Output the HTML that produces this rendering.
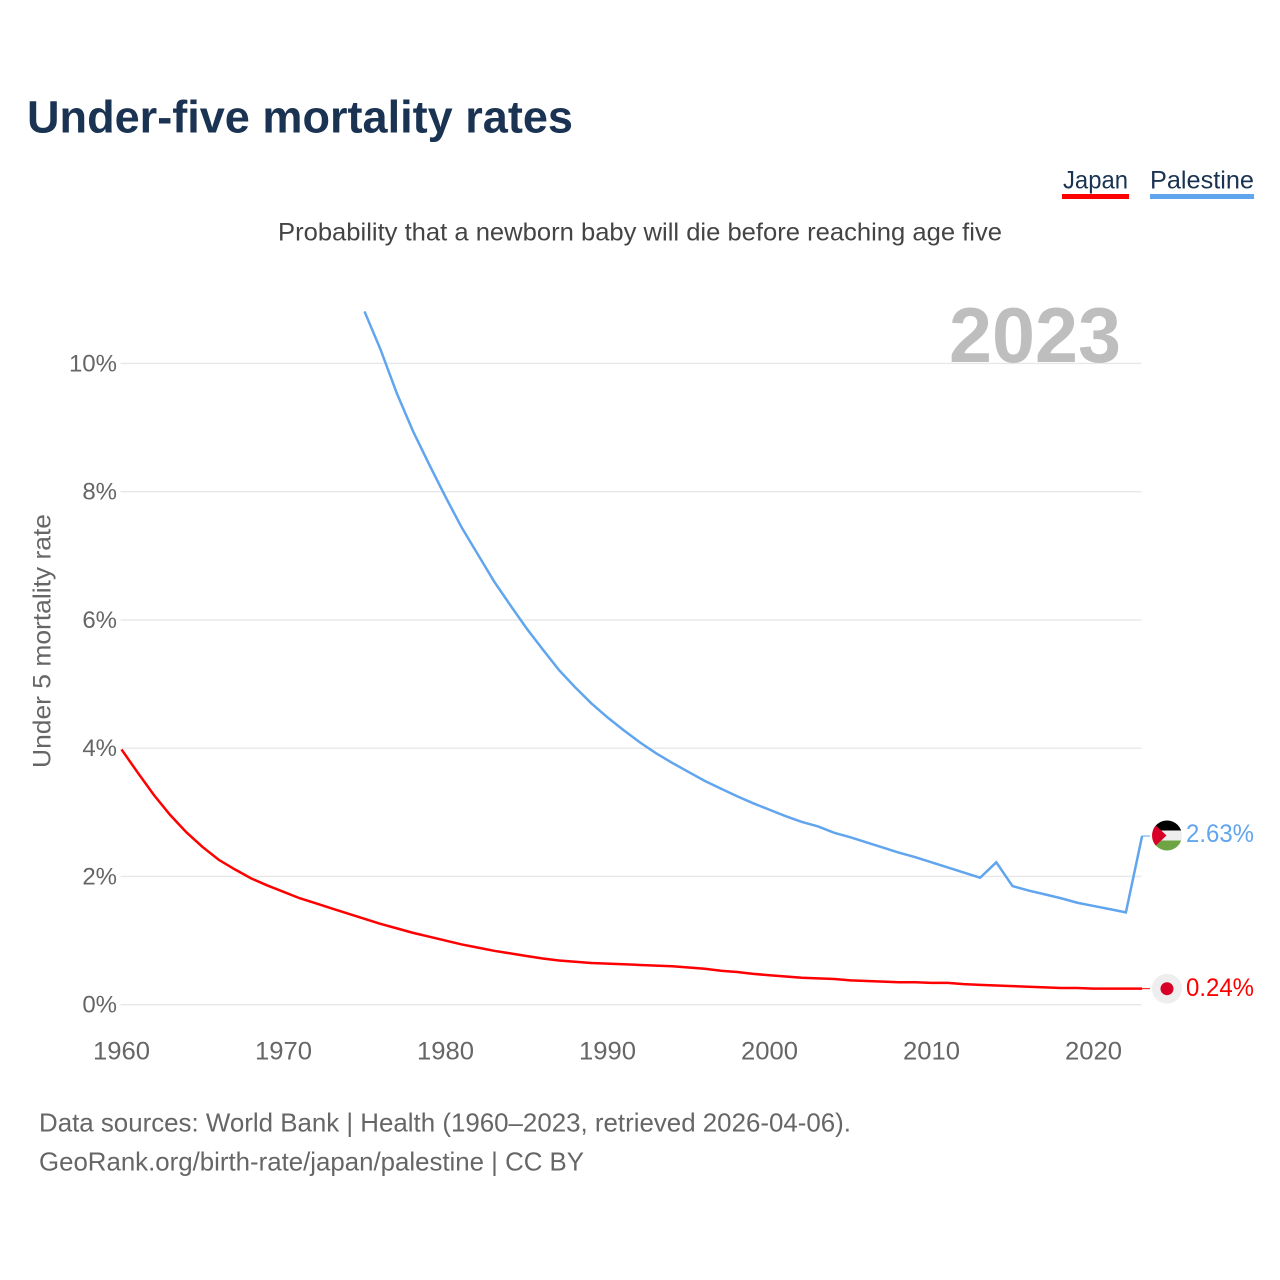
<!DOCTYPE html>
<html lang="en">
<head>
<meta charset="utf-8">
<title>Under-five mortality rates</title>
<style>
html,body{margin:0;padding:0;background:#fff;width:1280px;height:1280px;overflow:hidden}
svg{display:block;font-family:"Liberation Sans",sans-serif}
</style>
</head>
<body>
<svg id="chart" xmlns="http://www.w3.org/2000/svg" width="1280" height="1280" viewBox="0 0 1280 1280">
  <defs>
    <clipPath id="flag-clip"><circle cx="1167" cy="835.5" r="15"/></clipPath>
  </defs>
  <text x="27" y="132.5" font-size="45" font-weight="700" fill="#1a3352" textLength="546" lengthAdjust="spacingAndGlyphs">Under-five mortality rates</text>

  <g>
    <text x="1063" y="188.5" font-size="25" fill="#1a3352" textLength="65" lengthAdjust="spacingAndGlyphs">Japan</text>
    <rect x="1062" y="194" width="67" height="5" fill="#ff0000"/>
  </g>
  <g>
    <text x="1150" y="188.5" font-size="25" fill="#1a3352" textLength="104" lengthAdjust="spacingAndGlyphs">Palestine</text>
    <rect x="1150" y="194" width="104" height="5" fill="#60a5ee"/>
  </g>

  <text x="278" y="240.5" font-size="25" fill="#444444" textLength="724" lengthAdjust="spacingAndGlyphs">Probability that a newborn baby will die before reaching age five</text>

  <g id="grid"></g>
  <g id="y-ticks"></g>
  <g id="x-ticks"></g>

  <text x="949" y="362" font-size="78" font-weight="700" fill="#bebebe" textLength="172" lengthAdjust="spacingAndGlyphs">2023</text>

  <text transform="translate(50.5 768) rotate(-90)" font-size="25" fill="#666666" textLength="254" lengthAdjust="spacingAndGlyphs">Under 5 mortality rate</text>

  <g id="series"></g>

  <g clip-path="url(#flag-clip)">
    <rect x="1152" y="820" width="30" height="10.5" fill="#000000"/>
    <rect x="1152" y="830.5" width="30" height="10" fill="#eeeeee"/>
    <rect x="1152" y="840.5" width="30" height="11" fill="#6da544"/>
    <polygon points="1150,820 1166.5,835.5 1150,851" fill="#d80027"/>
  </g>
  <g>
    <circle cx="1167" cy="988.7" r="15" fill="#eeeeee"/>
    <circle cx="1167" cy="988.7" r="6.5" fill="#d80027"/>
  </g>

  <text x="1186" y="842" font-size="25" fill="#60a5ee" textLength="68" lengthAdjust="spacingAndGlyphs">2.63%</text>
  <text x="1186" y="996" font-size="25" fill="#ff0000" textLength="68" lengthAdjust="spacingAndGlyphs">0.24%</text>

  <text x="39" y="1131.5" font-size="26" fill="#666666" textLength="812" lengthAdjust="spacingAndGlyphs">Data sources: World Bank | Health (1960–2023, retrieved 2026-04-06).</text>
  <text x="39" y="1170.5" font-size="26" fill="#666666" textLength="545" lengthAdjust="spacingAndGlyphs">GeoRank.org/birth-rate/japan/palestine | CC BY</text>
</svg>
<script>
const yTickValues = [0, 2, 4, 6, 8, 10];
const yTickLabels = ["0%", "2%", "4%", "6%", "8%", "10%"];
const xTickValues = [1960, 1970, 1980, 1990, 2000, 2010, 2020];
const xTickLabels = ["1960", "1970", "1980", "1990", "2000", "2010", "2020"];

const japanStartYear = 1960;
const japanValues = [
  3.98, 3.62, 3.27, 2.96, 2.69, 2.46, 2.26, 2.11, 1.97, 1.86,
  1.76, 1.66, 1.58, 1.50, 1.42, 1.34, 1.26, 1.19, 1.12, 1.06,
  1.00, 0.94, 0.89, 0.84, 0.80, 0.76, 0.72, 0.69, 0.67, 0.65,
  0.64, 0.63, 0.62, 0.61, 0.60, 0.58, 0.56, 0.53, 0.51, 0.48,
  0.46, 0.44, 0.42, 0.41, 0.40, 0.38, 0.37, 0.36, 0.35, 0.35,
  0.34, 0.34, 0.32, 0.31, 0.30, 0.29, 0.28, 0.27, 0.26, 0.26,
  0.25, 0.25, 0.25, 0.25
];

const palestineStartYear = 1975;
const palestineValues = [
  10.81, 10.21, 9.53, 8.94, 8.42,
  7.92, 7.44, 7.02, 6.60, 6.23, 5.87, 5.54, 5.22, 4.95, 4.70,
  4.48, 4.28, 4.09, 3.92, 3.77, 3.63, 3.49, 3.37, 3.25, 3.14,
  3.04, 2.94, 2.85, 2.78, 2.68, 2.61, 2.53, 2.45, 2.37, 2.30,
  2.22, 2.14, 2.06, 1.98, 2.22, 1.85, 1.78, 1.72, 1.66, 1.59,
  1.54, 1.49, 1.44, 2.63
];

const svgNS = "http://www.w3.org/2000/svg";
function xScale(year) { return 121.5 + (year - 1960) * 16.2; }
function yScale(value) { return 1004.7 - value * 64.13; }
const plotLeft = xScale(1960) - 1;
const plotRight = xScale(2023) - 0.5;

const grid = document.getElementById("grid");
const yTicks = document.getElementById("y-ticks");
const xTicks = document.getElementById("x-ticks");
const series = document.getElementById("series");

yTickValues.forEach(function (v, i) {
  const line = document.createElementNS(svgNS, "line");
  
  
  line.setAttribute("x1", plotLeft);
  line.setAttribute("x2", plotRight);
  line.setAttribute("y1", yScale(v));
  line.setAttribute("y2", yScale(v));
  line.setAttribute("stroke", "#e8e8e8");
  line.setAttribute("stroke-width", "1.4");
  grid.appendChild(line);

  const label = document.createElementNS(svgNS, "text");
  
  
  label.setAttribute("x", 117);
  label.setAttribute("y", yScale(v) + 8);
  label.setAttribute("text-anchor", "end");
  label.setAttribute("font-size", "24");
  label.setAttribute("fill", "#666666");
  label.textContent = yTickLabels[i];
  yTicks.appendChild(label);
});

xTickValues.forEach(function (v, i) {
  const label = document.createElementNS(svgNS, "text");
  
  
  label.setAttribute("x", xScale(v));
  label.setAttribute("y", 1059.5);
  label.setAttribute("text-anchor", "middle");
  label.setAttribute("font-size", "25");
  label.setAttribute("textLength", "57");
  label.setAttribute("lengthAdjust", "spacingAndGlyphs");
  label.setAttribute("fill", "#666666");
  label.textContent = xTickLabels[i];
  xTicks.appendChild(label);
});

function pointsFor(startYear, values) {
  return values.map(function (v, i) {
    return xScale(startYear + i).toFixed(2) + "," + yScale(v).toFixed(2);
  });
}

const japanPoints = pointsFor(japanStartYear, japanValues);
const palestinePoints = pointsFor(palestineStartYear, palestineValues);

const japanLine = document.createElementNS(svgNS, "polyline");


japanLine.setAttribute("points", japanPoints.join(" "));
japanLine.setAttribute("fill", "none");
japanLine.setAttribute("stroke", "#ff0000");
japanLine.setAttribute("stroke-width", "2.5");
series.appendChild(japanLine);

const palestineLine = document.createElementNS(svgNS, "polyline");


palestineLine.setAttribute("points", palestinePoints.join(" "));
palestineLine.setAttribute("fill", "none");
palestineLine.setAttribute("stroke", "#60a5ee");
palestineLine.setAttribute("stroke-width", "2.5");
series.appendChild(palestineLine);

const japanConnector = document.createElementNS(svgNS, "line");


japanConnector.setAttribute("x1", xScale(2023));
japanConnector.setAttribute("x2", 1150);
japanConnector.setAttribute("y1", yScale(japanValues[japanValues.length - 1]));
japanConnector.setAttribute("y2", yScale(japanValues[japanValues.length - 1]));
japanConnector.setAttribute("stroke", "#ff0000");
japanConnector.setAttribute("stroke-width", "1");
series.appendChild(japanConnector);

const palestineConnector = document.createElementNS(svgNS, "line");


palestineConnector.setAttribute("x1", xScale(2023));
palestineConnector.setAttribute("x2", 1150);
palestineConnector.setAttribute("y1", yScale(palestineValues[palestineValues.length - 1]));
palestineConnector.setAttribute("y2", yScale(palestineValues[palestineValues.length - 1]));
palestineConnector.setAttribute("stroke", "#60a5ee");
palestineConnector.setAttribute("stroke-width", "1");
series.appendChild(palestineConnector);
</script>
</body>
</html>
